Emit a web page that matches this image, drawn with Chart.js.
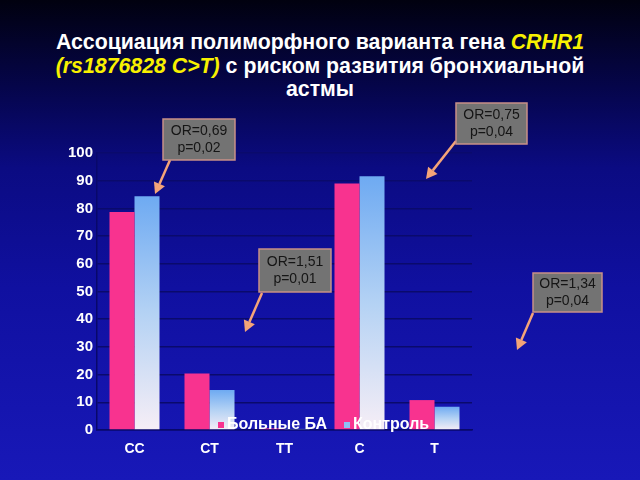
<!DOCTYPE html>
<html>
<head>
<meta charset="utf-8">
<script src="https://cdn.jsdelivr.net/npm/chart.js@4/dist/chart.umd.min.js"></script>
<style>
  html, body { margin: 0; padding: 0; }
  body {
    width: 640px; height: 480px; overflow: hidden; position: relative;
    background: linear-gradient(to bottom, #01010f 0%, #05054a 18%, #0b0b82 35%, #1010a0 60%, #1818b8 100%);
    font-family: "Liberation Sans", Arial, sans-serif;
  }
  #title {
    position: absolute; left: 0; top: 31px; width: 640px; text-align: center;
    color: #ffffff; font-weight: bold; font-size: 21.3px; line-height: 23.5px;
  }
  #title .y { color: #f8f000; font-style: italic; }
  #wrap { position: absolute; left: 0; top: 0; width: 640px; height: 480px; }
</style>
</head>
<body>
<div id="title">Ассоциация полиморфного варианта гена <span class="y">CRHR1</span><br><span class="y">(rs1876828 C&gt;T)</span> с риском развития бронхиальной<br>астмы</div>
<div id="wrap"><canvas id="c" width="640" height="480"></canvas></div>
<script>
const categories = ["CC", "CT", "TT", "C", "T"];
const patients = [78.7, 20.4, 0.6, 89.0, 10.8];
const controls = [84.4, 14.4, 0.4, 91.6, 8.4];
const seriesNames = ["Больные БА", "Контроль"];
const yTicks = [0, 10, 20, 30, 40, 50, 60, 70, 80, 90, 100];
const annotations = [
  { lines: ["OR=0,69", "p=0,02"], box: [163, 119, 72, 41], from: [170, 160], to: [155, 194] },
  { lines: ["OR=1,51", "p=0,01"], box: [259, 249, 72, 43], from: [262, 293], to: [245, 332] },
  { lines: ["OR=0,75", "p=0,04"], box: [456, 103, 71, 41], from: [456, 141], to: [426, 179] },
  { lines: ["OR=1,34", "p=0,04"], box: [533, 273, 69, 39], from: [533, 313], to: [517, 350] }
];

const pink = "#f8338f";

function blueGradient(ctx) {
  const chart = ctx.chart;
  const ys = chart.scales.y;
  if (!ys || ctx.parsed === undefined || ctx.parsed === null) return "#8cc0f5";
  const top = ys.getPixelForValue(ctx.parsed.y);
  const bottom = ys.getPixelForValue(0);
  if (!isFinite(top) || !isFinite(bottom) || bottom - top < 1) return "#8cc0f5";
  const g = chart.ctx.createLinearGradient(0, top, 0, bottom);
  g.addColorStop(0, "#6eaaf2");
  g.addColorStop(0.5, "#b4d2f4");
  g.addColorStop(1, "#f6eef6");
  return g;
}

const customLegend = {
  id: "customLegend",
  afterDatasetsDraw(chart) {
    const ctx = chart.ctx;
    ctx.save();
    ctx.font = "bold 16px 'Liberation Sans', Arial, sans-serif";
    ctx.textBaseline = "middle";
    const y = 425;
    const items = [
      { x: 218, color: pink, text: chart.data.datasets[0].label },
      { x: 344, color: "#8cc0f5", text: chart.data.datasets[1].label }
    ];
    items.forEach(it => {
      ctx.fillStyle = it.color;
      ctx.fillRect(it.x, y - 3, 6, 6);
      ctx.fillStyle = "#ffffff";
      ctx.textAlign = "left";
      ctx.fillText(it.text, it.x + 9, y);
    });
    ctx.restore();
  }
};

const annotationPlugin = {
  id: "callouts",
  afterDraw(chart) {
    const ctx = chart.ctx;
    ctx.save();
    annotations.forEach(a => {
      const [x1, y1] = a.from, [x2, y2] = a.to;
      const ang = Math.atan2(y2 - y1, x2 - x1);
      const hl = 11, hw = 6;
      const bx = x2 - hl * Math.cos(ang), by = y2 - hl * Math.sin(ang);
      ctx.strokeStyle = "#f4a478";
      ctx.fillStyle = "#f4a478";
      ctx.lineWidth = 2.5;
      ctx.beginPath();
      ctx.moveTo(x1, y1);
      ctx.lineTo(bx, by);
      ctx.stroke();
      ctx.beginPath();
      ctx.moveTo(x2, y2);
      ctx.lineTo(bx + hw * Math.sin(ang), by - hw * Math.cos(ang));
      ctx.lineTo(bx - hw * Math.sin(ang), by + hw * Math.cos(ang));
      ctx.closePath();
      ctx.fill();
      const [bx0, by0, bw, bh] = a.box;
      ctx.fillStyle = "#737373";
      ctx.fillRect(bx0, by0, bw, bh);
      ctx.strokeStyle = "#c89088";
      ctx.lineWidth = 1.5;
      ctx.strokeRect(bx0, by0, bw, bh);
      ctx.fillStyle = "#151515";
      ctx.font = "14px 'Liberation Sans', Arial, sans-serif";
      ctx.textAlign = "center";
      ctx.textBaseline = "middle";
      const cx = bx0 + bw / 2;
      const cy = by0 + bh / 2;
      ctx.fillText(a.lines[0], cx, cy - 8);
      ctx.fillText(a.lines[1], cx, cy + 9);
    });
    ctx.restore();
  }
};

new Chart(document.getElementById("c"), {
  type: "bar",
  data: {
    labels: categories,
    datasets: [
      { label: seriesNames[0], data: patients, backgroundColor: pink, borderWidth: 0,
        categoryPercentage: 0.667, barPercentage: 1.0 },
      { label: seriesNames[1], data: controls, backgroundColor: blueGradient, borderWidth: 0,
        categoryPercentage: 0.667, barPercentage: 1.0 }
    ]
  },
  options: {
    responsive: false,
    animation: false,
    events: [],
    layout: { padding: { left: 0, right: 168, top: 153, bottom: 0 } },
    plugins: {
      legend: { display: false },
      title: { display: false },
      tooltip: { enabled: false }
    },
    scales: {
      x: {
        grid: { display: false, drawTicks: false },
        border: { display: true, color: "#08086a", width: 1.5 },
        ticks: { color: "#ffffff", padding: 11, font: { family: "'Liberation Sans', Arial, sans-serif", size: 14, weight: "bold" } },
        afterFit(s) { s.height = 50; }
      },
      y: {
        min: 0, max: 100,
        afterBuildTicks(s) { s.ticks = yTicks.map(v => ({ value: v })); },
        grid: { color: "#0a0a6c", lineWidth: 1.5, drawTicks: false },
        border: { display: true, color: "#08086a", width: 1.5 },
        ticks: { color: "#ffffff", padding: 4, font: { family: "'Liberation Sans', Arial, sans-serif", size: 15, weight: "bold" } },
        afterFit(s) { s.width = 97; }
      }
    }
  },
  plugins: [customLegend, annotationPlugin]
});
</script>
</body>
</html>
